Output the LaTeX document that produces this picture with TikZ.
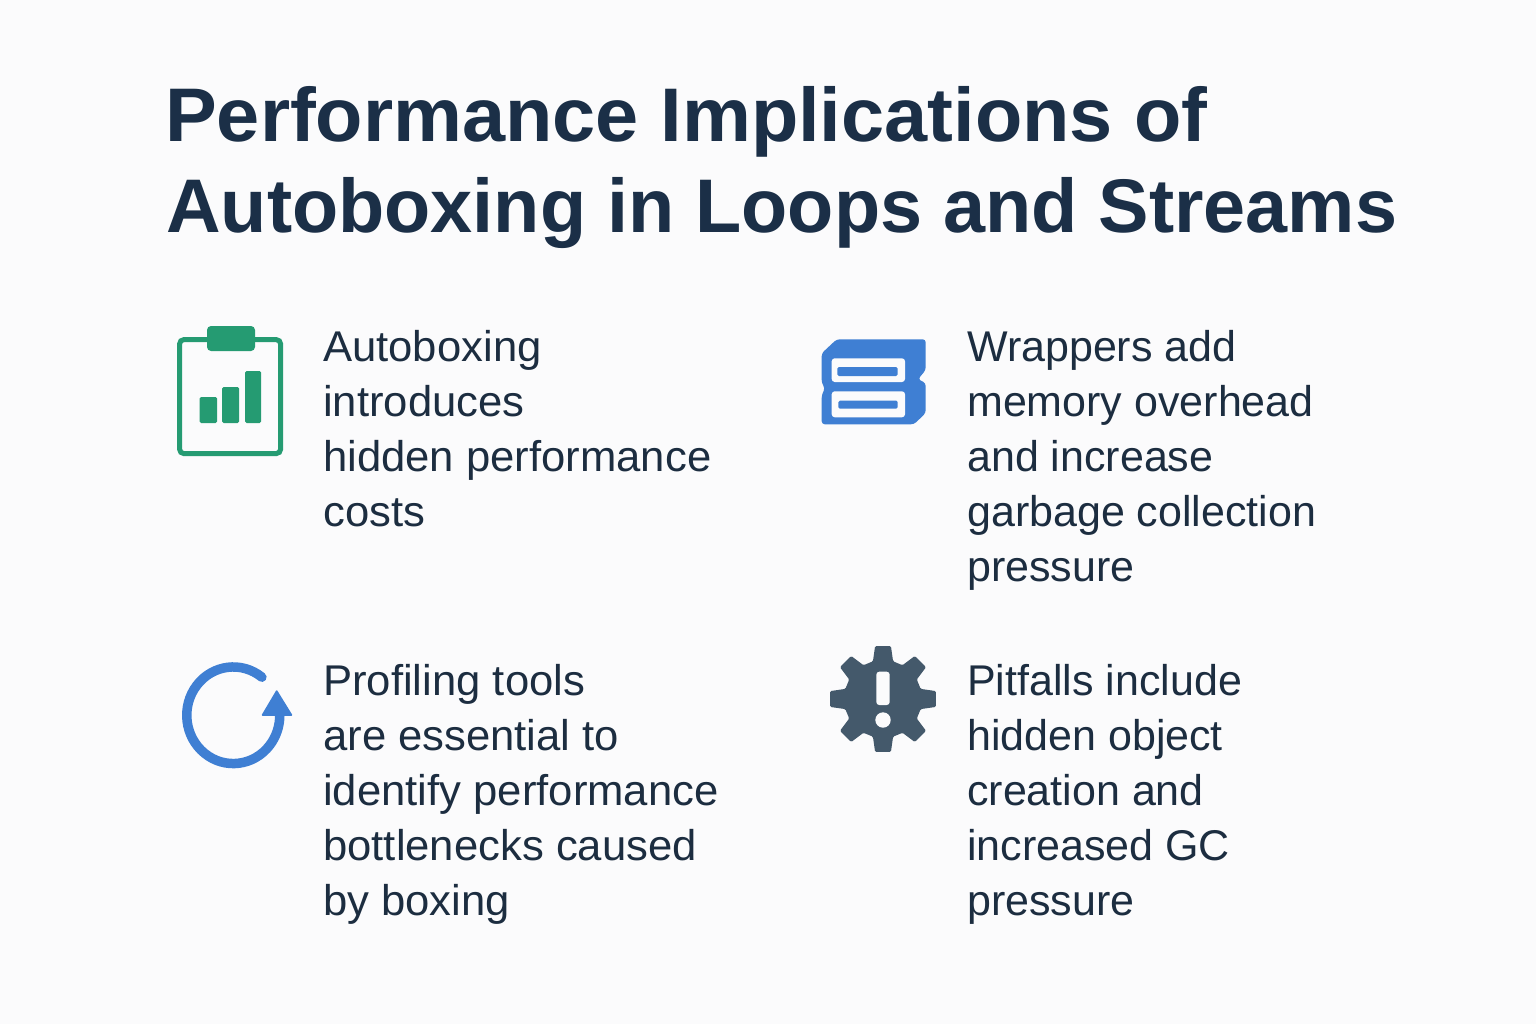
\documentclass[tikz,border=0pt]{standalone}
\usepackage{fontspec}
\setmainfont{Liberation Sans}
\newfontfamily\bodywide[FakeStretch=1.015]{Liberation Sans}
\definecolor{bgc}{HTML}{FBFBFC}
\definecolor{titlec}{HTML}{1B2F47}
\definecolor{bodyc}{HTML}{1C2D40}
\definecolor{greenc}{HTML}{259B72}
\definecolor{bluec}{HTML}{3F7FD3}
\definecolor{gearc}{HTML}{44596B}
\tikzset{
  titletext/.style={anchor=base west,inner sep=0pt,text=titlec,font=\fontsize{76}{76}\selectfont\bfseries},
  bodytext/.style={anchor=north west,inner sep=0pt,text=bodyc,align=left,font=\fontsize{43}{55.1}\selectfont},
  bodywider/.style={bodytext,font=\fontsize{43}{55.1}\selectfont\bodywide},
}
\begin{document}
\begin{tikzpicture}[x=1pt,y=-1pt]
\fill[bgc] (0,0) rectangle (1536,1024);
\useasboundingbox (0,0) rectangle (1536,1024);
\node[titletext] (t1) at (165,142) {\scalebox{1.02}[1]{Performance Implications of}};
\node[titletext] (t2) at (166,233) {\scalebox{0.995}[1]{Autoboxing in Loops and Streams}};
\node[bodywider] (b1) at (323,330) {Autoboxing\\introduces\\hidden performance\\costs};
\node[bodytext] (b2) at (967,330) {Wrappers add\\memory overhead\\and increase\\garbage collection\\pressure};
\node[bodywider] (b3) at (323,664) {Profiling tools\\are essential to\\identify performance\\bottlenecks caused\\by boxing};
\node[bodytext] (b4) at (967,664) {Pitfalls include\\hidden object\\creation and\\increased GC\\pressure};
% clipboard
\draw[greenc,line width=5pt,rounded corners=4pt] (179.7,339.7) rectangle (280.5,453.5);
\fill[greenc,rounded corners=4pt] (207,326) rectangle (255,351);
\fill[greenc,rounded corners=1.5pt] (199.5,397) rectangle (217,423);
\fill[greenc,rounded corners=1.5pt] (222,387) rectangle (239,423);
\fill[greenc,rounded corners=1.5pt] (245,371) rectangle (261,423);
% server
\fill[bluec,rounded corners=3pt] (836.7,339.3) -- (925.7,339.3) -- (925.7,370) -- (918,379.3) -- (925.7,383) -- (925.7,413) -- (914,424.3) -- (821.7,424.3) -- (821.7,395) -- (825,388.3) -- (821.7,383) -- (821.7,353.3) -- cycle;
\fill[bgc,rounded corners=3pt] (831.7,358.3) rectangle (905,382);
\fill[bgc,rounded corners=3pt] (831.7,391.3) rectangle (905,417.3);
\fill[bluec,rounded corners=1.5pt] (837.3,367) rectangle (897.7,376);
\fill[bluec,rounded corners=1.5pt] (838.3,400.7) rectangle (897.7,408.7);
% circular arrow
\draw[bluec,line width=9.5pt,line cap=round] (261.9,677.2) arc[start angle=52,end angle=360,x radius=46.5pt,y radius=48.3pt];
\fill[bluec,draw=bluec,line width=1.5pt,line join=round] (276.7,691) -- (291.5,715) -- (262.5,715) -- cycle;
% gear
\begin{scope}[shift={(883,699)}]
\fill[gearc,rounded corners=1.2pt] (75:39pt)
  \foreach \a in {90,135,...,405} { -- ({\a-15}:39pt) -- ({\a-8.5}:53.5pt) -- ({\a+8.5}:53.5pt) -- ({\a+15}:39pt) } -- cycle;
\end{scope}
\fill[bgc,rounded corners=3pt] (876.3,671.7) rectangle (889.7,705);
\fill[bgc] (883,720) circle[radius=7.7pt];
\end{tikzpicture}
\end{document}
